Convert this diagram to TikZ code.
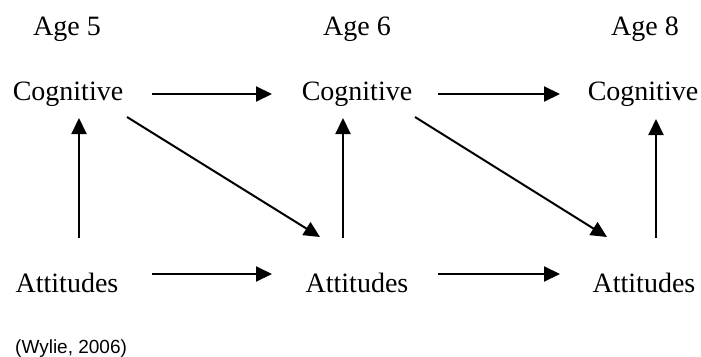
\documentclass[tikz,border=0pt]{standalone}
\usepackage{fontspec}
\setmainfont{Liberation Serif}
\newfontfamily\citefont{Liberation Sans}
\usetikzlibrary{arrows.meta,calc}
\begin{document}
\begin{tikzpicture}[x=1pt,y=-1pt,
  lbl/.style={inner sep=0pt,anchor=base,font=\fontsize{28}{34}\selectfont},
  conn/.style={line width=2pt,-{Triangle[length=16pt,width=15pt]}}]
\useasboundingbox (0,0) rectangle (701,356);
\node[lbl] (age5) at (67,35) {Age 5};
\node[lbl] (age6) at (357,35) {Age 6};
\node[lbl] (age8) at (645,35) {Age 8};
\node[lbl] (c1) at (68,100) {Cognitive};
\node[lbl] (c2) at (357,100) {Cognitive};
\node[lbl] (c3) at (643,100) {Cognitive};
\node[lbl] (a1) at (67,292) {Attitudes};
\node[lbl] (a2) at (357,292) {Attitudes};
\node[lbl] (a3) at (644,292) {Attitudes};
\node[inner sep=0pt,anchor=base west,font=\citefont\fontsize{19}{23}\selectfont] (cite) at (15,353) {(Wylie, 2006)};
% horizontal
\draw[conn] ($(c1.base)+(84,-6)$) -- ($(c2.base)+(-85,-6)$);
\draw[conn] ($(c2.base)+(81,-6)$) -- ($(c3.base)+(-83,-6)$);
\draw[conn] ($(a1.base)+(85,-18)$) -- ($(a2.base)+(-85,-18)$);
\draw[conn] ($(a2.base)+(81,-18)$) -- ($(a3.base)+(-84,-18)$);
% vertical
\draw[conn] ($(a1.base)+(12,-54)$) -- ($(c1.base)+(11,18)$);
\draw[conn] ($(a2.base)+(-14,-54)$) -- ($(c2.base)+(-14,18)$);
\draw[conn] ($(a3.base)+(12,-54)$) -- ($(c3.base)+(13,19)$);
% diagonal
\draw[conn] ($(c1.base)+(59,17)$) -- ($(a2.base)+(-37,-55)$);
\draw[conn] ($(c2.base)+(58,17)$) -- ($(a3.base)+(-37,-55)$);
\end{tikzpicture}
\end{document}
